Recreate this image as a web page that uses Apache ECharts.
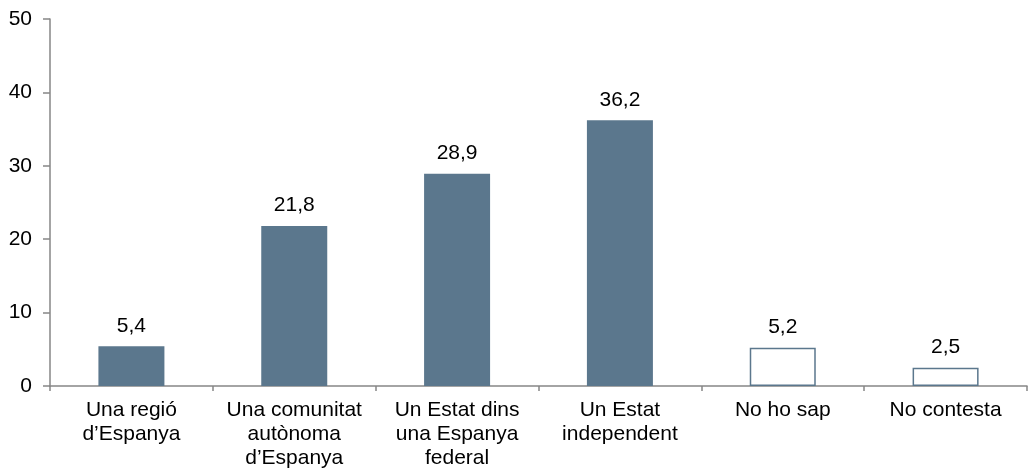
<!DOCTYPE html>
<html>
<head>
<meta charset="utf-8">
<script src="https://cdn.jsdelivr.net/npm/echarts@6/dist/echarts.min.js"></script>
<style>html,body{margin:0;padding:0;background:#fff}#c{width:1029px;height:470px}</style>
</head>
<body>
<div id="c"></div>
<script>
const categories = ["Una regió\nd’Espanya", "Una comunitat\nautònoma\nd’Espanya", "Un Estat dins\nuna Espanya\nfederal", "Un Estat\nindependent", "No ho sap", "No contesta"];
const values = [5.4, 21.8, 28.9, 36.2, 5.2, 2.5];
const hollow = [false, false, false, false, true, true];
const yTicks = [0, 10, 20, 30, 40, 50];

const barColor = '#5B778D';
const axisColor = '#868686';
const font = 'Liberation Sans, Arial, sans-serif';

const chart = echarts.init(document.getElementById('c'));
chart.setOption({
  animation: false,
  grid: {left: 50, right: 2, top: 19, bottom: 84},
  xAxis: {
    type: 'category',
    data: categories,
    axisLine: {lineStyle: {color: axisColor, width: 1.5}},
    axisTick: {show: true, length: 5, alignWithLabel: false, lineStyle: {color: axisColor, width: 1.5}},
    axisLabel: {interval: 0, color: '#000', fontFamily: font, fontSize: 21, lineHeight: 24, margin: 12}
  },
  yAxis: {
    type: 'value',
    min: yTicks[0],
    max: yTicks[yTicks.length - 1],
    interval: 10,
    splitLine: {show: false},
    axisLine: {show: true, lineStyle: {color: axisColor, width: 1.5}},
    axisTick: {show: true, length: 7, lineStyle: {color: axisColor, width: 1.5}},
    axisLabel: {color: '#000', fontFamily: font, fontSize: 21, margin: 18}
  },
  series: [{
    type: 'bar',
    barWidth: 66,
    data: values.map((v, i) => ({
      value: v,
      itemStyle: hollow[i]
        ? {color: '#fff', borderColor: barColor, borderWidth: 1.5}
        : {color: barColor}
    })),
    label: {
      show: true,
      position: 'top',
      distance: 10,
      color: '#000',
      fontFamily: font,
      fontSize: 21,
      formatter: p => String(p.value).replace('.', ',')
    }
  }]
});
</script>
</body>
</html>
